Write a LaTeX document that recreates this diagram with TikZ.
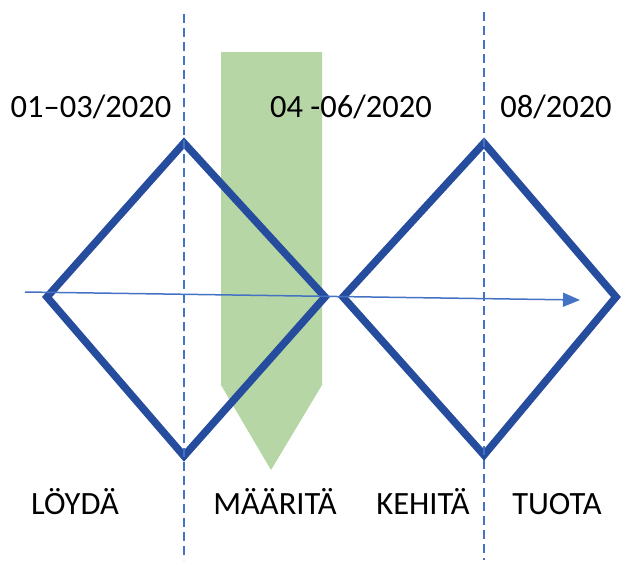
\documentclass[tikz,border=0pt]{standalone}
\usepackage{fontspec}
\setmainfont{Carlito}
\usetikzlibrary{arrows.meta}
\definecolor{dblue}{RGB}{38,76,158}
\definecolor{lblue}{RGB}{68,114,196}
\definecolor{lgreen}{RGB}{182,214,165}
\tikzset{
  diam/.style={draw=dblue,line width=7.5pt,line join=miter},
  guide/.style={draw=lblue,line width=1.2pt,dash pattern=on 9pt off 5pt},
  flow/.style={draw=lblue,line width=1.5pt,-{Triangle[length=17pt,width=14pt]}},
  lbl/.style={font=\fontsize{32.5}{36}\selectfont,inner sep=0pt,anchor=base}
}
\begin{document}
\begin{tikzpicture}[x=1pt,y=-1pt]
\useasboundingbox (0,0) rectangle (623,560);
% green phase arrow
\fill[lgreen] (221,52) -- (322,52) -- (322,385) -- (271,470) -- (221,385) -- cycle;
% diamonds
\coordinate (d1l) at (47,297);
\coordinate (d1t) at (184,143);
\coordinate (d1r) at (325,297);
\coordinate (d1b) at (184,456);
\coordinate (d2l) at (343,297);
\coordinate (d2t) at (484,143);
\coordinate (d2r) at (616,297);
\coordinate (d2b) at (484,455);
\draw[diam] (d1l) -- (d1t) -- (d1r) -- (d1b) -- cycle;
\draw[diam] (d2l) -- (d2t) -- (d2r) -- (d2b) -- cycle;
% dashed guides
\coordinate (g1a) at (184,14);
\coordinate (g1b) at (184,560);
\coordinate (g2a) at (484,12);
\coordinate (g2b) at (484,560);
\draw[guide] (g1a) -- (g1b);
\draw[guide] (g2a) -- (g2b);
% flow arrow
\coordinate (fa) at (25,292);
\coordinate (fb) at (580,300);
\draw[flow] (fa) -- (fb);
% labels
\node[lbl] (t1) at (91,117) {01–03/2020};
\node[lbl] (t2) at (351,117) {04 -06/2020};
\node[lbl] (t3) at (556,117) {08/2020};
\node[lbl] (b1) at (75,514) {LÖYDÄ};
\node[lbl] (b2) at (275,514) {MÄÄRITÄ};
\node[lbl] (b3) at (423,514) {KEHITÄ};
\node[lbl] (b4) at (557,514) {TUOTA};
\end{tikzpicture}
\end{document}
